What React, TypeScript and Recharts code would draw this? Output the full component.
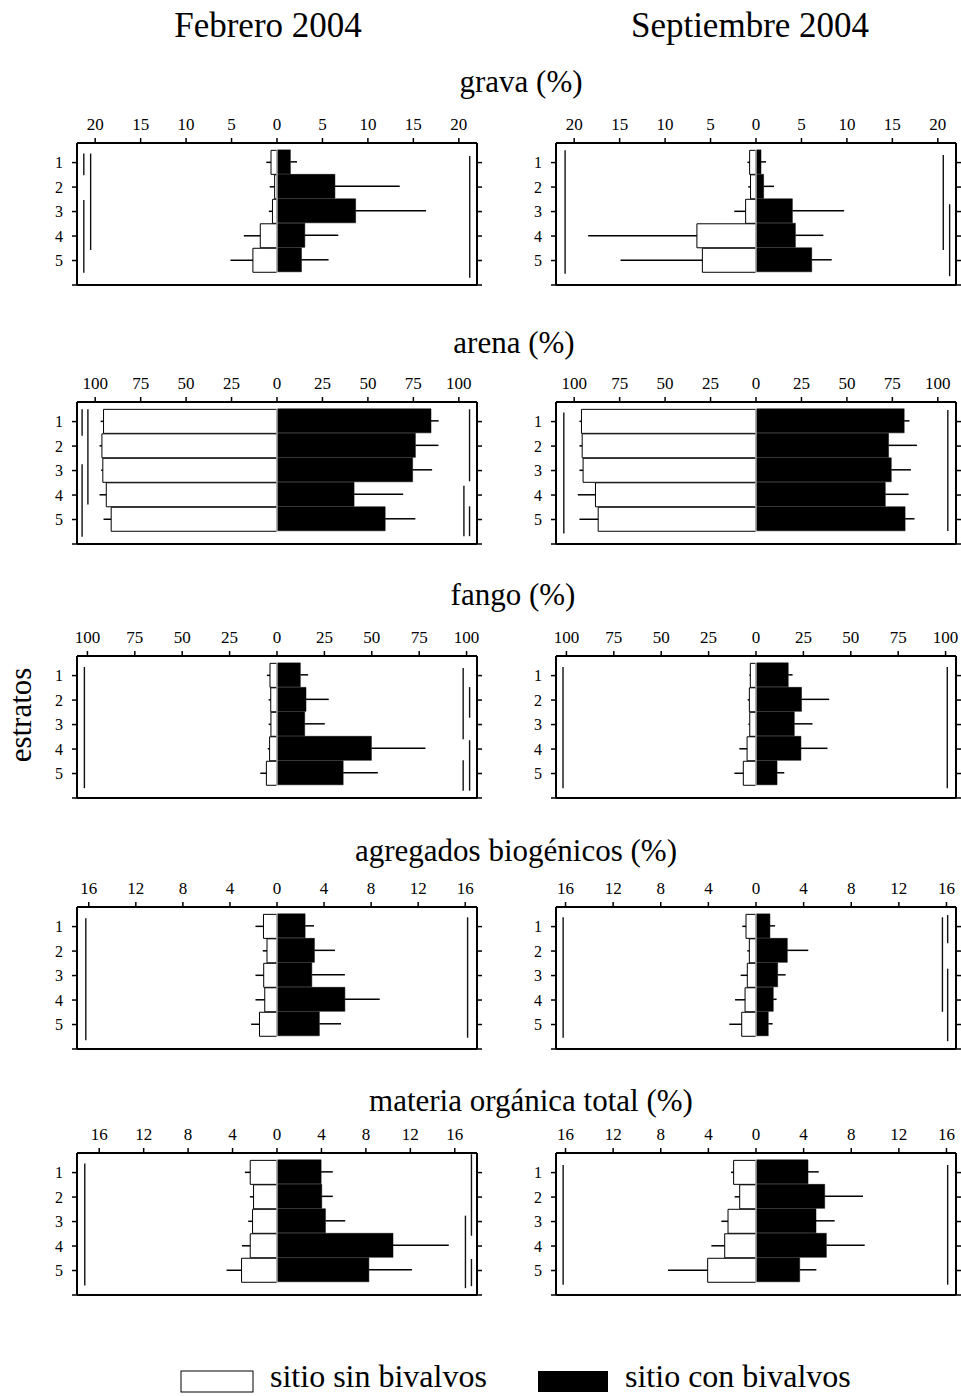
import React from 'react';
import { BarChart, Bar, XAxis, YAxis, ErrorBar, ReferenceLine } from 'recharts';

// ---------- data ----------
const estratos = [1, 2, 3, 4, 5];
const yTicks = [1, 2, 3, 4, 5, 6];

const ticksGrava = [-20, -15, -10, -5, 0, 5, 10, 15, 20];
const ticksPct = [-100, -75, -50, -25, 0, 25, 50, 75, 100];
const ticks16 = [-16, -12, -8, -4, 0, 4, 8, 12, 16];

// grava (%)
const gravaFebSin = [0.66, 0.26, 0.5, 1.84, 2.65];
const gravaFebSinErr = [0.52, 0.54, 0.4, 1.81, 2.47];
const gravaFebCon = [1.47, 6.37, 8.65, 3.06, 2.69];
const gravaFebConErr = [0.73, 7.13, 7.75, 3.68, 2.98];
const gravaFebLines = [[-21.25, 0.63, 1.52], [-21.25, 2.53, 5.5], [-20.5, 0.63, 4.57], [21.2, 0.73, 5.7]];

const gravaSepSin = [0.7, 0.6, 1.14, 6.5, 5.9];
const gravaSepSinErr = [0.25, 0.25, 1.25, 11.96, 9.0];
const gravaSepCon = [0.55, 0.84, 4.0, 4.33, 6.13];
const gravaSepConErr = [0.55, 1.14, 5.69, 3.08, 2.2];
const gravaSepLines = [[-21, 0.5, 5.54], [20.6, 0.69, 4.57], [21.3, 2.7, 5.64]];

// arena (%)
const arenaFebSin = [95.4, 96.3, 95.8, 93.9, 91.2];
const arenaFebSinErr = [1.6, 1.3, 0.9, 3.7, 4.2];
const arenaFebCon = [84.7, 76.1, 74.6, 42.4, 59.5];
const arenaFebConErr = [4.2, 12.7, 10.7, 27.0, 16.6];
const arenaFebLines = [[-107.2, 0.5, 1.58], [-107.2, 2.74, 5.7], [-104, 0.5, 4.39], [105.9, 0.5, 3.44], [102.8, 3.62, 5.68], [105.9, 4.46, 5.68]];

const arenaSepSin = [96, 95.6, 95.1, 88.3, 86.8];
const arenaSepSinErr = [1.1, 1.5, 2.0, 9.7, 10.3];
const arenaSepCon = [81.5, 72.9, 74.4, 71.1, 82];
const arenaSepConErr = [2.9, 15.6, 10.8, 12.8, 5.2];
const arenaSepLines = [[-105.7, 0.63, 5.57], [105.5, 0.53, 5.47]];

// fango (%)
const fangoFebSin = [3.7, 3.3, 3.2, 3.9, 5.6];
const fangoFebSinErr = [1.6, 1.1, 1.2, 1.0, 3.2];
const fangoFebCon = [12.3, 15.3, 14.6, 49.8, 34.9];
const fangoFebConErr = [4.1, 12.0, 10.6, 28.5, 18.3];
const fangoFebLines = [[-101.6, 0.65, 5.6], [98.2, 0.69, 3.6], [101.6, 1.47, 2.72], [101.6, 3.64, 5.7], [98.2, 4.46, 5.7]];

const fangoSepSin = [3.0, 3.5, 3.3, 4.7, 6.7];
const fangoSepSinErr = [0.5, 0.9, 0.7, 4.1, 4.7];
const fangoSepCon = [17, 24, 20.2, 23.7, 11.1];
const fangoSepConErr = [2.3, 14.6, 9.6, 14.0, 3.8];
const fangoSepLines = [[-101.8, 0.65, 5.6], [100.9, 0.65, 5.6]];

// agregados biogénicos (%)
const agregFebSin = [1.15, 0.85, 1.13, 1.04, 1.49];
const agregFebSinErr = [0.68, 0.36, 0.7, 0.79, 0.71];
const agregFebCon = [2.39, 3.18, 2.96, 5.77, 3.6];
const agregFebConErr = [0.76, 1.75, 2.81, 2.96, 1.84];
const agregFebLines = [[-16.25, 0.66, 5.64], [16.2, 0.62, 5.54]];

const agregSepSin = [0.84, 0.56, 0.73, 0.92, 1.2];
const agregSepSinErr = [0.31, 0.17, 0.56, 0.84, 1.04];
const agregSepCon = [1.17, 2.63, 1.82, 1.45, 1.03];
const agregSepConErr = [0.43, 1.76, 0.67, 0.28, 0.37];
const agregSepLines = [[-16.2, 0.62, 5.54], [15.66, 0.62, 4.48], [16.1, 0.53, 1.68], [16.1, 2.72, 5.68]];

// materia orgánica total (%)
const matFebSin = [2.41, 2.11, 2.2, 2.41, 3.19];
const matFebSinErr = [0.48, 0.33, 0.39, 0.75, 1.35];
const matFebCon = [3.97, 4.03, 4.36, 10.44, 8.27];
const matFebConErr = [1.05, 0.99, 1.78, 5.02, 3.88];
const matFebLines = [[-17.3, 0.63, 5.61], [17.5, 0.25, 3.58], [16.96, 2.76, 5.72], [17.5, 4.53, 5.64]];

const matSepSin = [1.88, 1.37, 2.35, 2.63, 4.06];
const matSepSinErr = [0.22, 0.42, 0.56, 1.12, 3.33];
const matSepCon = [4.37, 5.77, 5.04, 5.91, 3.67];
const matSepConErr = [0.9, 3.22, 1.57, 3.22, 1.4];
const matSepLines = [[-16.2, 0.69, 5.58], [16.1, 0.69, 5.58]];

const sectionTitles = ['grava (%)', 'arena (%)', 'fango (%)', 'agregados biogénicos (%)', 'materia orgánica total (%)'];
const columnTitles = ['Febrero 2004', 'Septiembre 2004'];
const legendLabels = ['sitio sin bivalvos', 'sitio con bivalvos'];

// ---------- layout ----------
const FONT = "'Liberation Serif', 'Times New Roman', serif";
const COL_L = [77, 556];
const BOX_W = 400;
const BOX_H = 142;
const ROW_T = [143, 402, 656, 907, 1153];
const TITLE_Y = [92, 353, 605, 861, 1111];
const TITLE_X = [521, 514, 513, 516, 531];

type PanelProps = {
  left: number; top: number; dom: number; ticks: number[];
  sin: number[]; sinErr: number[]; con: number[]; conErr: number[]; lines: number[][];
};

function Panel({ left, top, dom, ticks, sin, sinErr, con, conErr, lines }: PanelProps) {
  const data = estratos.map((e, i) => ({
    estrato: e,
    sin: -sin[i],
    sinErr: [sinErr[i], 0],
    con: con[i],
    conErr: [0, conErr[i]],
  }));
  const axisLine = { stroke: '#000', strokeWidth: 2 };
  const tickLine = { stroke: '#000', strokeWidth: 1.5 };
  return (
    <div style={{ position: 'absolute', left: left - 40, top: top - 40, fontFamily: FONT }}>
      <BarChart
        width={BOX_W + 52}
        height={BOX_H + 46}
        data={data}
        layout="vertical"
        margin={{ top: 0, right: 0, bottom: 0, left: 0 }}
        barCategoryGap={0}
        barGap="-100%"
      >
        <XAxis
          xAxisId="t"
          orientation="top"
          type="number"
          domain={[-dom, dom]}
          ticks={ticks}
          allowDataOverflow
          tickFormatter={(v: number) => String(Math.abs(v))}
          height={40}
          tickSize={5}
          tickMargin={8}
          axisLine={axisLine}
          tickLine={tickLine}
          tick={{ fontSize: 17, fill: '#000' }}
          interval={0}
        />
        <XAxis
          xAxisId="b"
          orientation="bottom"
          type="number"
          domain={[-dom, dom]}
          allowDataOverflow
          height={6}
          tick={false}
          tickLine={false}
          axisLine={axisLine}
        />
        <YAxis
          yAxisId="l"
          type="number"
          dataKey="estrato"
          domain={[0.2, 6]}
          allowDataOverflow
          ticks={yTicks}
          interval={0}
          tickFormatter={(v: number) => (v === 6 ? '' : String(v))}
          width={40}
          tickSize={5}
          tickMargin={9}
          axisLine={axisLine}
          tickLine={tickLine}
          tick={{ fontSize: 16, fill: '#000' }}
        />
        <YAxis
          yAxisId="r"
          orientation="right"
          type="number"
          dataKey="estrato"
          domain={[0.2, 6]}
          allowDataOverflow
          ticks={yTicks}
          interval={0}
          tickFormatter={() => ''}
          width={12}
          tickSize={5}
          axisLine={axisLine}
          tickLine={tickLine}
        />
        <Bar xAxisId="t" yAxisId="l" dataKey="sin" fill="#fff" stroke="#000" strokeWidth={1} isAnimationActive={false}>
          <ErrorBar dataKey="sinErr" direction="x" width={0} stroke="#000" strokeWidth={1.5} isAnimationActive={false} />
        </Bar>
        <Bar xAxisId="t" yAxisId="l" dataKey="con" fill="#000" stroke="#000" strokeWidth={0.5} isAnimationActive={false}>
          <ErrorBar dataKey="conErr" direction="x" width={0} stroke="#000" strokeWidth={1.5} isAnimationActive={false} />
        </Bar>
        {lines.map((l, i) => (
          <ReferenceLine
            key={i}
            xAxisId="t"
            yAxisId="l"
            segment={[{ x: l[0], y: l[1] }, { x: l[0], y: l[2] }]}
            stroke="#111"
            strokeWidth={1.4}
          />
        ))}
        <ReferenceLine xAxisId="t" yAxisId="l" x={0} stroke="#fff" strokeWidth={1} />
      </BarChart>
    </div>
  );
}

const panels = [
  [
    { dom: 22, ticks: ticksGrava, sin: gravaFebSin, sinErr: gravaFebSinErr, con: gravaFebCon, conErr: gravaFebConErr, lines: gravaFebLines },
    { dom: 22, ticks: ticksGrava, sin: gravaSepSin, sinErr: gravaSepSinErr, con: gravaSepCon, conErr: gravaSepConErr, lines: gravaSepLines },
  ],
  [
    { dom: 110, ticks: ticksPct, sin: arenaFebSin, sinErr: arenaFebSinErr, con: arenaFebCon, conErr: arenaFebConErr, lines: arenaFebLines },
    { dom: 110, ticks: ticksPct, sin: arenaSepSin, sinErr: arenaSepSinErr, con: arenaSepCon, conErr: arenaSepConErr, lines: arenaSepLines },
  ],
  [
    { dom: 105.5, ticks: ticksPct, sin: fangoFebSin, sinErr: fangoFebSinErr, con: fangoFebCon, conErr: fangoFebConErr, lines: fangoFebLines },
    { dom: 105.5, ticks: ticksPct, sin: fangoSepSin, sinErr: fangoSepSinErr, con: fangoSepCon, conErr: fangoSepConErr, lines: fangoSepLines },
  ],
  [
    { dom: 17, ticks: ticks16, sin: agregFebSin, sinErr: agregFebSinErr, con: agregFebCon, conErr: agregFebConErr, lines: agregFebLines },
    { dom: 16.8, ticks: ticks16, sin: agregSepSin, sinErr: agregSepSinErr, con: agregSepCon, conErr: agregSepConErr, lines: agregSepLines },
  ],
  [
    { dom: 18, ticks: ticks16, sin: matFebSin, sinErr: matFebSinErr, con: matFebCon, conErr: matFebConErr, lines: matFebLines },
    { dom: 16.8, ticks: ticks16, sin: matSepSin, sinErr: matSepSinErr, con: matSepCon, conErr: matSepConErr, lines: matSepLines },
  ],
];

export default function App() {
  return (
    <div
      style={{
        position: 'absolute',
        left: 0,
        top: 0,
        width: 961,
        height: 1396,
        overflow: 'hidden',
        background: '#fff',
        fontFamily: FONT,
      }}
    >
      {panels.map((row, r) =>
        row.map((p, c) => <Panel key={`${r}-${c}`} left={COL_L[c]} top={ROW_T[r]} {...p} />)
      )}
      <svg width={961} height={1396} style={{ position: 'absolute', left: 0, top: 0, pointerEvents: 'none' }}>
        <g fontFamily={FONT} fill="#000">
          <text x={268} y={37} fontSize={35} textAnchor="middle">{columnTitles[0]}</text>
          <text x={750} y={37} fontSize={35} textAnchor="middle">{columnTitles[1]}</text>
          {sectionTitles.map((t, i) => (
            <text key={t} x={TITLE_X[i]} y={TITLE_Y[i]} fontSize={31} textAnchor="middle">{t}</text>
          ))}
          <text x={0} y={0} fontSize={31} textAnchor="middle" transform="translate(31 715) rotate(-90)">estratos</text>
          <rect x={181} y={1371} width={72} height={21} fill="#fff" stroke="#000" strokeWidth={1} />
          <text x={270} y={1387} fontSize={32}>{legendLabels[0]}</text>
          <rect x={538} y={1371} width={70} height={21} fill="#000" />
          <text x={625} y={1387} fontSize={32}>{legendLabels[1]}</text>
        </g>
      </svg>
    </div>
  );
}
